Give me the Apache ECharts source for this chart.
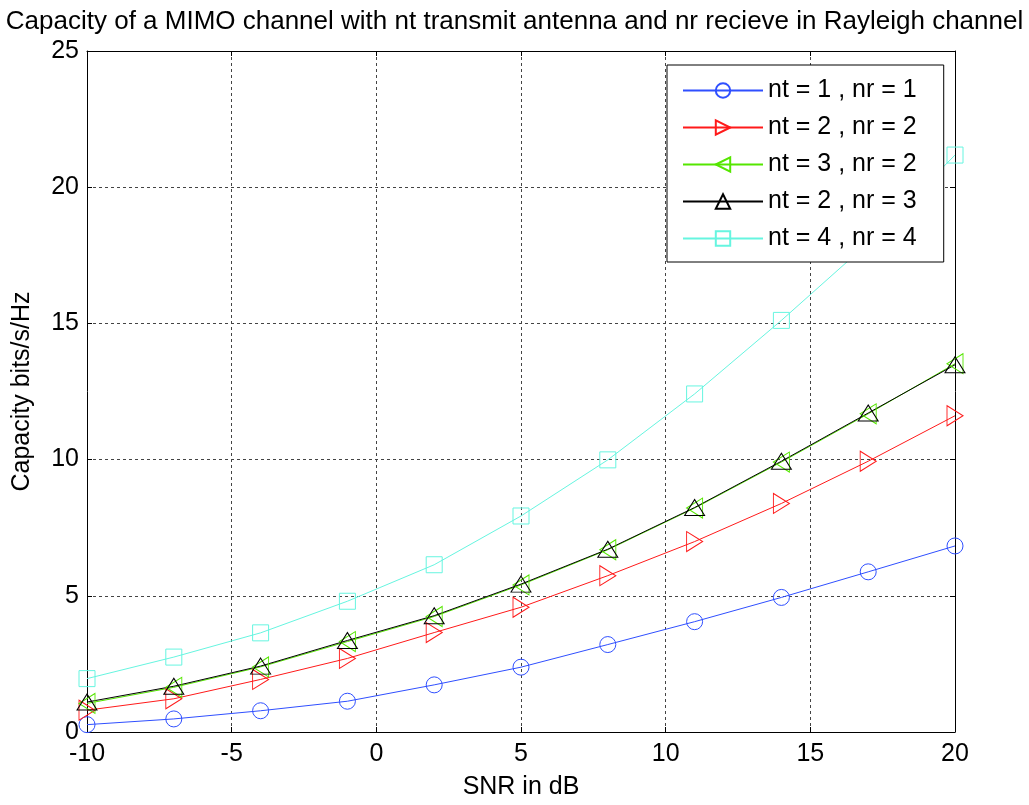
<!DOCTYPE html>
<html>
<head>
<meta charset="utf-8">
<script src="https://cdn.jsdelivr.net/npm/echarts@6/dist/echarts.min.js"></script>
<style>
  html, body { margin: 0; padding: 0; background: #fff; }
  #chart { width: 1029px; height: 805px; }
</style>
</head>
<body>
<div id="chart"></div>
<script>
// SNR sample points (dB)
const snrDb = [-10, -7, -4, -1, 2, 5, 8, 11, 14, 17, 20];

// Ergodic capacity (bits/s/Hz) for each antenna configuration
const cap11 = [0.27, 0.48, 0.78, 1.13, 1.73, 2.38, 3.21, 4.05, 4.94, 5.88, 6.83];
const cap22 = [0.80, 1.22, 1.93, 2.70, 3.65, 4.58, 5.74, 6.99, 8.39, 9.94, 11.61];
const cap32 = [1.05, 1.64, 2.39, 3.32, 4.24, 5.40, 6.69, 8.22, 9.91, 11.68, 13.52];
const cap23 = [1.10, 1.68, 2.42, 3.36, 4.27, 5.43, 6.71, 8.24, 9.94, 11.71, 13.48];
const cap44 = [1.96, 2.75, 3.64, 4.80, 6.14, 7.93, 9.99, 12.41, 15.11, 17.95, 21.18];

const seriesNames = ['nt = 1 , nr = 1', 'nt = 2 , nr = 2', 'nt = 3 , nr = 2', 'nt = 2 , nr = 3', 'nt = 4 , nr = 4'];

const FONT = '"Liberation Sans", Arial, Helvetica, sans-serif';

function pairs(ys) { return snrDb.map((x, i) => [x, ys[i]]); }

function lineSeries(name, ys, color, symbol, rotate, size) {
  return {
    name: name,
    type: 'line',
    data: pairs(ys),
    color: color,
    symbol: symbol,
    symbolSize: size,
    symbolRotate: rotate,
    showAllSymbol: true,
    animation: false,
    lineStyle: { color: color, width: 1 },
    itemStyle: { color: 'rgba(255,255,255,0)', borderColor: color, borderWidth: 1 },
    emphasis: { disabled: true }
  };
}

const axisCommon = {
  axisLine: { show: true, onZero: false, lineStyle: { color: '#000', width: 1 } },
  axisTick: { show: true, inside: true, length: 5, lineStyle: { color: '#000' } }
};

const gridLine = { show: true, lineStyle: { color: '#444', type: [3, 3], width: 1 } };

const chart = echarts.init(document.getElementById('chart'), null, { renderer: 'canvas' });

chart.setOption({
  backgroundColor: '#fff',
  animation: false,
  title: {
    text: 'Capacity of a MIMO channel with nt transmit antenna and nr recieve in Rayleigh channel',
    left: 'center',
    top: 4,
    textStyle: { fontFamily: FONT, fontSize: 26, fontWeight: 'normal', color: '#000' }
  },
  grid: { left: 87, right: 74, top: 51, bottom: 71, containLabel: false },
  legend: {
    orient: 'vertical',
    left: 667,
    top: 65,
    data: seriesNames,
    backgroundColor: '#fff',
    borderColor: '#000',
    borderWidth: 1,
    borderRadius: 0,
    padding: [13, 27, 11, 15],
    itemWidth: 80,
    itemHeight: 18,
    itemGap: 12,
    selectedMode: false,
    textStyle: { fontFamily: FONT, fontSize: 25, color: '#000', lineHeight: 24 }
  },
  xAxis: [
    Object.assign({
      type: 'value', min: -10, max: 20, interval: 5, position: 'bottom',
      name: 'SNR in dB', nameLocation: 'middle', nameGap: 43,
      nameTextStyle: { fontFamily: FONT, fontSize: 25, color: '#000' },
      axisLabel: { fontFamily: FONT, fontSize: 25, color: '#000', margin: 10 },
      splitLine: gridLine
    }, axisCommon),
    Object.assign({
      type: 'value', min: -10, max: 20, interval: 5, position: 'top',
      axisLabel: { show: false }, splitLine: { show: false }
    }, axisCommon)
  ],
  yAxis: [
    Object.assign({
      type: 'value', min: 0, max: 25, interval: 5, position: 'left',
      name: 'Capacity bits/s/Hz', nameLocation: 'middle', nameGap: 52,
      nameTextStyle: { fontFamily: FONT, fontSize: 25, color: '#000' },
      axisLabel: { fontFamily: FONT, fontSize: 25, color: '#000', margin: 8 },
      splitLine: gridLine
    }, axisCommon),
    Object.assign({
      type: 'value', min: 0, max: 25, interval: 5, position: 'right',
      axisLabel: { show: false }, splitLine: { show: false }
    }, axisCommon)
  ],
  series: [
    lineSeries(seriesNames[0], cap11, '#2f4fff', 'circle', 0, 16),
    lineSeries(seriesNames[1], cap22, '#ff1a1a', 'triangle', -90, [20, 16]),
    lineSeries(seriesNames[2], cap32, '#55e600', 'triangle', 90, [20, 16]),
    lineSeries(seriesNames[3], cap23, '#000000', 'triangle', 0, [20, 16]),
    lineSeries(seriesNames[4], cap44, '#66f5e0', 'rect', 0, 16)
  ]
});
</script>
</body>
</html>
